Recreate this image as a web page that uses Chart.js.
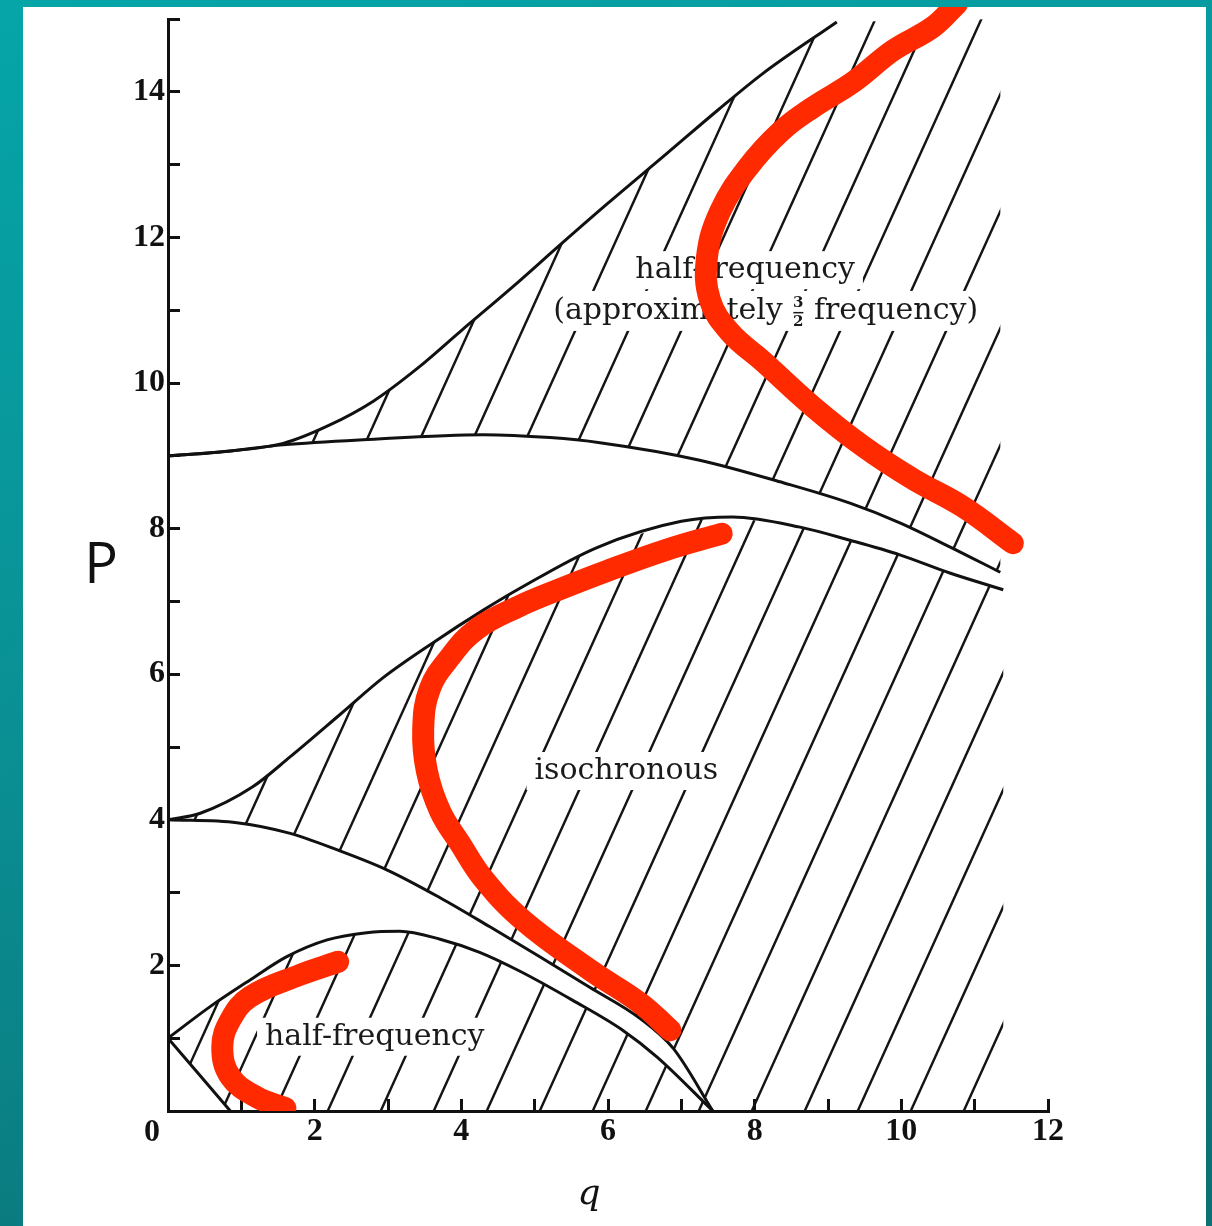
<!DOCTYPE html>
<html>
<head>
<meta charset="utf-8">
<script src="https://cdn.jsdelivr.net/npm/chart.js@4.4.1/dist/chart.umd.min.js"></script>
<style>
    html, body { margin: 0; padding: 0; }
    body {
        width: 1212px; height: 1226px; position: relative; overflow: hidden;
        background: linear-gradient(165deg, #05a5a8 0%, #0a9195 45%, #0b7074 100%);
    }
    #panel { position: absolute; left: 23px; top: 7px; width: 1183px; height: 1219px; background: #fff; }
    #wrap { position: absolute; left: 0; top: 0; width: 1212px; height: 1226px; }
</style>
</head>
<body>
<div id="panel"></div>
<div id="wrap"><canvas id="chart"></canvas></div>
<script>
const xLabels = [2, 4, 6, 8, 10, 12];
const yLabels = [2, 4, 6, 8, 10, 12, 14];

// stability boundaries, [q, p]
const lineFromOne = [[0, 1.0], [0.85, 0]];
const archFromOne = [[0, 1.0], [0.57, 1.43], [1.12, 1.80], [1.62, 2.12], [2.17, 2.35], [2.71, 2.45], [3.16, 2.47],
    [3.71, 2.36], [4.25, 2.18], [4.80, 1.92], [5.52, 1.52], [6.20, 1.11], [6.67, 0.74], [7.43, 0]];
const lowerFromFour = [[0, 4.0], [0.94, 3.96], [1.64, 3.82], [2.30, 3.59], [2.99, 3.31], [3.71, 2.93], [4.39, 2.53],
    [5.07, 2.12], [5.75, 1.70], [6.44, 1.27], [6.89, 0.86], [7.43, 0]];
const upperFromFour = [[0, 4.0], [0.44, 4.09], [1.15, 4.45], [1.66, 4.86], [2.35, 5.45], [2.93, 5.95], [3.61, 6.43],
    [4.30, 6.88], [4.80, 7.18], [5.85, 7.74], [7.00, 8.10], [7.70, 8.16], [8.62, 8.02], [9.30, 7.84], [9.98, 7.64],
    [10.66, 7.39], [11.39, 7.16]];
const lowerFromNine = [[0, 9.0], [0.67, 9.05], [1.57, 9.15], [2.66, 9.22], [4.30, 9.29], [5.21, 9.25], [5.89, 9.18],
    [7.25, 8.94], [8.39, 8.63], [9.30, 8.35], [9.98, 8.08], [10.66, 7.75], [11.35, 7.40]];
const upperFromNine = [[0, 9.0], [0.67, 9.05], [1.57, 9.17], [2.20, 9.42], [2.80, 9.75], [3.40, 10.20], [4.0, 10.72],
    [4.70, 11.32], [5.35, 11.9], [6.0, 12.47], [6.80, 13.15], [7.50, 13.75], [8.11, 14.25], [9.12, 14.96]];

// red hand-drawn strokes
const redLow = [[2.32, 2.05], [1.80, 1.87], [1.12, 1.57], [0.85, 1.25], [0.74, 0.88], [0.85, 0.47], [1.21, 0.19], [1.60, 0.04]];
const redMid = [[7.55, 7.93], [6.80, 7.71], [5.99, 7.42], [5.35, 7.17], [4.76, 6.92], [4.21, 6.62], [3.85, 6.24],
    [3.57, 5.80], [3.48, 5.25], [3.53, 4.67], [3.71, 4.12], [3.98, 3.68], [4.30, 3.19], [4.84, 2.62], [5.75, 1.94],
    [6.44, 1.48], [6.85, 1.11]];
const redHigh = [[10.76, 15.21], [10.43, 14.89], [9.89, 14.57], [9.34, 14.13], [8.80, 13.79], [8.35, 13.45], [7.90, 12.95],
    [7.53, 12.36], [7.35, 11.73], [7.39, 11.14], [7.66, 10.70], [8.11, 10.30], [8.80, 9.67], [9.48, 9.13], [10.16, 8.68],
    [10.84, 8.30], [11.52, 7.80]];

const regionLabels = [
    {text: 'half-frequency', q: 2.82, p: 1.02},
    {text: 'isochronous', q: 6.25, p: 4.67},
    {text: 'half-frequency', q: 7.87, p: 11.55}
];
const fractionLabel = {before: '(approximately ', num: '3', den: '2', after: ' frequency)', q: 8.15, p: 10.99};

const Q_MAX = 12;
const P_MAX = 15;

function toPoints(arr) {
    return arr.map(([q, p]) => ({x: q, y: p}));
}

function last(arr) {
    return arr[arr.length - 1];
}

// hatched (stable) regions, closed shapes built from the boundaries
const halfFreqRegion = archFromOne.concat([last(lineFromOne)]);
const isoRegion = upperFromFour.concat([[last(upperFromFour)[0], 0]], lowerFromFour.slice().reverse());
const upperRegion = lowerFromNine.concat([[last(lowerFromNine)[0], P_MAX]], upperFromNine.slice().reverse());

function hatchPattern() {
    const W = 53, H = 117, o = 36, e = 4;
    const tile = document.createElement('canvas');
    tile.width = W;
    tile.height = H;
    const g = tile.getContext('2d');
    g.strokeStyle = '#141414';
    g.lineWidth = 2.4;
    for (let k = -2; k <= 3; k++) {
        g.beginPath();
        g.moveTo(o + k * W + e * W / H, -e);
        g.lineTo(o + (k - 1) * W - e * W / H, H + e);
        g.stroke();
    }
    return g.createPattern(tile, 'repeat');
}

const hatch = hatchPattern();

function regionSet(arr) {
    return {
        data: toPoints(arr), showLine: true, fill: 'shape', backgroundColor: hatch,
        borderColor: 'rgba(0,0,0,0)', borderWidth: 0, tension: 0, pointRadius: 0, order: 3
    };
}

function curveSet(arr) {
    return {
        data: toPoints(arr), showLine: true, fill: false, borderColor: '#111', borderWidth: 3,
        cubicInterpolationMode: 'monotone', pointRadius: 0, order: 2
    };
}

function redSet(arr) {
    return {
        data: toPoints(arr), showLine: true, fill: false, borderColor: '#ff2a00', borderWidth: 22,
        borderCapStyle: 'round', borderJoinStyle: 'round', tension: 0.4, pointRadius: 0, order: 1,
        clip: {left: 0, top: 12, right: 0, bottom: 0}
    };
}

const labelFont = '30px "DejaVu Serif"';

function boxedText(ctx, text, cx, cy) {
    const w = ctx.measureText(text).width;
    ctx.fillStyle = '#fff';
    ctx.fillRect(cx - w / 2 - 8, cy - 19, w + 16, 38);
    ctx.fillStyle = '#1a1a1a';
    ctx.fillText(text, cx, cy);
}

const textPlugin = {
    id: 'plotText',
    beforeDatasetsDraw(chart) {
        const {ctx, scales: {x, y}} = chart;
        ctx.save();
        ctx.font = labelFont;
        ctx.textAlign = 'center';
        ctx.textBaseline = 'middle';
        regionLabels.forEach((l) => boxedText(ctx, l.text, x.getPixelForValue(l.q), y.getPixelForValue(l.p)));

        // second line with the stacked 3/2
        const f = fractionLabel;
        const cx = x.getPixelForValue(f.q);
        const cy = y.getPixelForValue(f.p);
        const wb = ctx.measureText(f.before).width;
        const wa = ctx.measureText(f.after).width;
        const wf = 12;
        const total = wb + wf + wa;
        let left = cx - total / 2;
        ctx.fillStyle = '#fff';
        ctx.fillRect(left - 8, cy - 20, total + 16, 40);
        ctx.fillStyle = '#1a1a1a';
        ctx.textAlign = 'left';
        ctx.fillText(f.before, left, cy);
        ctx.fillText(f.after, left + wb + wf, cy);
        ctx.font = 'bold 15px "DejaVu Serif"';
        ctx.textAlign = 'center';
        ctx.fillText(f.num, left + wb + wf / 2, cy - 8);
        ctx.fillText(f.den, left + wb + wf / 2, cy + 11);
        ctx.fillRect(left + wb + 1, cy + 1, wf - 2, 1.5);
        ctx.restore();
    },
    afterDraw(chart) {
        const {ctx, chartArea, scales: {x}} = chart;
        ctx.save();
        ctx.fillStyle = '#111';
        ctx.textAlign = 'center';
        ctx.textBaseline = 'middle';
        ctx.font = 'bold 32px "Liberation Serif"';
        ctx.fillText('0', x.getPixelForValue(0) - 16, chartArea.bottom + 22);
        ctx.font = '56px "Open Sans"';
        ctx.fillText('P', chartArea.left - 67, (chartArea.top + chartArea.bottom) / 2 + 2);
        ctx.font = 'italic 36px "DejaVu Serif"';
        ctx.fillText('q', (chartArea.left + chartArea.right) / 2 - 19, chartArea.bottom + 84);
        ctx.restore();
    }
};

const tickFont = {family: '"Liberation Serif"', size: 32, weight: 'bold', lineHeight: 1};

new Chart(document.getElementById('chart'), {
    type: 'scatter',
    data: {
        datasets: [
            redSet(redHigh), redSet(redMid), redSet(redLow),
            curveSet(lineFromOne), curveSet(archFromOne), curveSet(lowerFromFour), curveSet(upperFromFour),
            curveSet(lowerFromNine), curveSet(upperFromNine),
            regionSet(halfFreqRegion), regionSet(isoRegion), regionSet(upperRegion)
        ]
    },
    options: {
        responsive: true,
        maintainAspectRatio: false,
        animation: false,
        devicePixelRatio: 1,
        events: [],
        layout: {padding: {left: 0, top: 19, right: 164, bottom: 0}},
        plugins: {
            legend: {display: false},
            tooltip: {enabled: false},
            filler: {drawTime: 'beforeDatasetsDraw'}
        },
        scales: {
            x: {
                type: 'linear', min: 0, max: Q_MAX,
                afterFit: (scale) => {
                    scale.height = 115;
                    scale.paddingLeft = 0;
                    scale.paddingRight = 0;
                },
                border: {display: true, color: '#111', width: 3},
                grid: {drawOnChartArea: false, drawTicks: true, tickLength: -12, tickWidth: 3, color: '#111'},
                ticks: {
                    stepSize: 1, padding: 17, color: '#111', font: tickFont, maxRotation: 0, autoSkip: false,
                    callback: (v) => xLabels.includes(v) ? String(v) : ''
                }
            },
            y: {
                type: 'linear', min: 0, max: P_MAX,
                afterFit: (scale) => {
                    scale.width = 168;
                    scale.paddingTop = 0;
                    scale.paddingBottom = 0;
                },
                border: {display: true, color: '#111', width: 3},
                grid: {drawOnChartArea: false, drawTicks: true, tickLength: -12, tickWidth: 3, color: '#111'},
                ticks: {
                    stepSize: 1, padding: 15, color: '#111', font: tickFont, autoSkip: false,
                    callback: (v) => yLabels.includes(v) ? String(v) : ''
                }
            }
        }
    },
    plugins: [textPlugin]
});
</script>
</body>
</html>
